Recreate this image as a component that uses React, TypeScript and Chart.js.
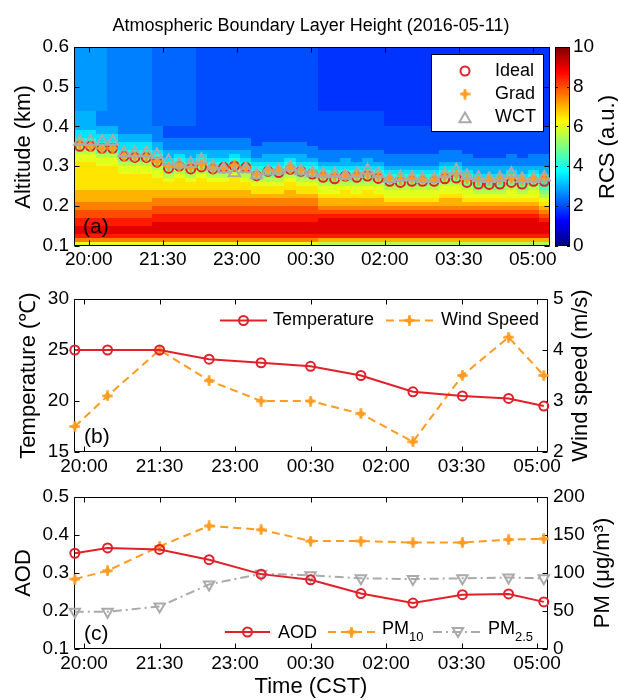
import React, { useEffect, useRef } from "react";
import { Chart, registerables } from "chart.js";

Chart.register(...registerables);

const FONT = '"Liberation Sans", Arial, Helvetica, sans-serif';
const RED = "rgb(226,32,42)";
const ORANGE = "rgb(255,155,32)";
const GRAY = "rgb(170,170,170)";

// ---------------- shared x ticks ----------------
const X_TICK_TIMES = ["20:00", "21:30", "23:00", "00:30", "02:00", "03:30", "05:00"];

// ---------------- panel (a): lidar RCS + boundary layer heights ----------------
const RCS_TIMES = [
  "19:49", "20:02", "20:16", "20:29", "20:43", "20:56", "21:10", "21:23", "21:37", "21:50",
  "22:04", "22:17", "22:31", "22:44", "22:57", "23:11", "23:24", "23:38", "23:51", "00:05",
  "00:18", "00:32", "00:45", "00:59", "01:12", "01:26", "01:39", "01:52", "02:06", "02:19",
  "02:33", "02:46", "03:00", "03:13", "03:27", "03:40", "03:54", "04:07", "04:20", "04:34",
  "04:47", "05:01", "05:14",
];
// altitude band edges (km), from top to bottom
const RCS_ALT_EDGES = [
  0.6, 0.56, 0.52, 0.48, 0.44, 0.4, 0.39, 0.38, 0.37, 0.36, 0.35, 0.34, 0.33, 0.32, 0.31,
  0.3, 0.29, 0.28, 0.27, 0.26, 0.25, 0.24, 0.23, 0.22, 0.21, 0.2, 0.19, 0.18, 0.17, 0.16,
  0.15, 0.14, 0.13, 0.12, 0.11, 0.1,
];
// RCS level (a.u.) of each code character
const RCS_LEVELS: Record<string, number> = {
  "0": 0, "1": 0.5, "2": 1, "3": 1.5, a: 1.75, "4": 2, b: 2.25, "5": 2.5, c: 2.75, "6": 3,
  "7": 3.5, "8": 4, "9": 4.5, A: 5, B: 5.5, C: 6, D: 6.5, E: 7, F: 7.5, G: 8, H: 8.5, I: 9,
  J: 9.5, K: 10,
};
// one character per time column (spaces only group the columns), rows from top to bottom
const RCS_ROWS = [
  "ccc5555b bbb44444 444444 aaaaaa aaaaa aa aaaa aaaa",
  "ccc5555b bbb44444 444444 aaaaaa aaaaa aa aaaa aaaa",
  "ccc5555b bbb44444 444444 aaaaaa aaaaa aa aaaa aaaa",
  "ccc5555b bbb44444 444444 aaaaaa aaaaa aa aaaa aaaa",
  "6655555b bbb44444 444444 444444 aaaaa aa aaaa aaaa",
  "66665555 44444444 444444 444444 44444 44 4444 4444",
  "77665555 44444444 444444 444444 44444 44 4444 4444",
  "77776665 44444444 444444 444444 44444 44 4444 4444",
  "88776665 55555555 444444 444444 44444 44 4444 4444",
  "99887776 55555555 455554 444444 44444 44 4444 4444",
  "AA997776 55555555 555555 444444 44444 44 4444 4444",
  "BBAA8887 66666666 555555 555555 44444 55 4444 4444",
  "CCBB9998 67676676 566665 555555 55555 55 5444 5455",
  "CCCCAAA9 78787787 666766 556565 55555 55 5555 5555",
  "DDCCBBBA 89898898 777877 666666 55555 66 5555 5555",
  "DDDDCCCB 9A9A99A9 888988 777777 66666 77 6666 6666",
  "DDDDCCCC ABABAABA 999A99 888888 77777 88 7666 7676",
  "DDDDDDDC BCBCBBCB AAABAA 999999 88888 99 8777 8787",
  "DDDDDDDD CDCDCCDC BBBCBB AAAAAA 99999 AA 9888 9897",
  "DDDDDDDD DDDDDDDD CCCDCC BBBBBB AAAAA BB A999 A9A8",
  "DDDDDDDD DDDDDDDD DDDDDD CCCCCC BBBBB CC BAAA BAB9",
  "EEEEEEEE EEEEEEEE DDDEDD CCDCDC CCCCC CC CBBB CBCA",
  "EEEEEEEE EEEEEEEE EEEEEE DDDDDD CCCCC DD CCCC CCCB",
  "EEEEEEEF FFFFFFFF FFFFFF EEEEEE DDDDD EE DDDD DDDC",
  "FFFFFFFF FFFFFFFF FFFFFF EEEEEE EEEEE EE EEEE EEED",
  "FFFFFFFG GGGGGGGG GGGGGG FFFFFF FFFFF FF FFFF FFFE",
  "GGGGGGGG GGGGGGGG GGGGGG GGGGGG GGGGG GG GGGG GGGF",
  "GGGGGGGH HHHHHHHH HHHHHH HHHHHH HHHHH HH HHHH HHHG",
  "HHHHHHHH HHHHHHHH HHHHHH IIIIII IIIII II IIII IIIH",
  "HHHHHHHI IIIIIIII IIIIII IIIIII IIIII II IIII IIII",
  "IIIIIIII IIIIIIII IIIIII IIIIII IIIII II IIII IIII",
  "IIIIIIII IIIIIIII IIIIII IIIIII IIIII II IIII IIII",
  "HHHHHHHH HHHHHHHH HHHHHH HHHHHH HHHHH HH HHHH HHHH",
  "FFFFFFFF FFFFFFFF FFFFFF EEEEEE EEEEE EE EEEE EEEE",
  "CCCCCCCC CCCCCCCC CCCCCC BBBBBB BBBBB BB BBBB BBBB",
];
const BLH_IDEAL = [
  0.35, 0.35, 0.345, 0.345, 0.325, 0.322, 0.322, 0.31, 0.295, 0.3, 0.293, 0.298, 0.293, 0.297,
  0.3, 0.297, 0.276, 0.287, 0.284, 0.292, 0.287, 0.28, 0.272, 0.268, 0.275, 0.272, 0.275, 0.269,
  0.262, 0.259, 0.262, 0.262, 0.262, 0.268, 0.27, 0.259, 0.255, 0.254, 0.255, 0.259, 0.255, 0.262,
  0.262,
];
const BLH_GRAD = [
  0.355, 0.35, 0.345, 0.345, 0.325, 0.325, 0.325, 0.312, 0.3, 0.3, 0.297, 0.305, 0.295, 0.295,
  0.302, 0.297, 0.28, 0.29, 0.29, 0.295, 0.29, 0.285, 0.277, 0.275, 0.276, 0.277, 0.28, 0.274,
  0.268, 0.266, 0.268, 0.266, 0.266, 0.274, 0.28, 0.268, 0.265, 0.265, 0.266, 0.27, 0.265, 0.268,
  0.268,
];
const BLH_WCT = [
  0.362, 0.362, 0.362, 0.362, 0.334, 0.334, 0.334, 0.328, 0.313, 0.305, 0.306, 0.316, 0.3, 0.293,
  0.283, 0.293, 0.278, 0.287, 0.29, 0.297, 0.288, 0.283, 0.28, 0.281, 0.276, 0.281, 0.29, 0.28,
  0.268, 0.273, 0.272, 0.268, 0.268, 0.28, 0.29, 0.276, 0.271, 0.268, 0.271, 0.281, 0.268, 0.268,
  0.272,
];

// ---------------- panels (b) and (c) ----------------
const MET_TIMES = ["19:49", "20:28", "21:30", "22:29", "23:31", "00:30", "01:30", "02:32", "03:31", "04:26", "05:08"];
const TEMPERATURE = [25.0, 25.0, 25.0, 24.1, 23.75, 23.4, 22.5, 20.9, 20.5, 20.25, 19.5];
const WIND_SPEED = [2.5, 3.1, 4.0, 3.4, 3.0, 3.0, 2.75, 2.2, 3.5, 4.25, 3.5];
const AOD = [0.352, 0.366, 0.362, 0.335, 0.297, 0.282, 0.246, 0.221, 0.243, 0.245, 0.224];
const PM10 = [92, 103, 135, 162, 157, 142, 142, 140, 140, 144, 145];
const PM25 = [49, 49, 56, 85, 99, 97, 93, 92, 93, 94, 93];

// ---------------- helpers ----------------
function toMin(t: string): number {
  const [h, m] = t.split(":").map(Number);
  let v = h * 60 + m - 20 * 60;
  if (h < 12) v += 24 * 60;
  return v;
}
function fmtTime(v: number): string {
  const tot = (((Math.round(v) + 20 * 60) % 1440) + 1440) % 1440;
  const h = Math.floor(tot / 60);
  const m = tot % 60;
  return `${String(h).padStart(2, "0")}:${String(m).padStart(2, "0")}`;
}
const RCS_GRID: number[][] = RCS_ROWS.map((row) =>
  row.replace(/ /g, "").split("").map((ch) => RCS_LEVELS[ch])
);
function clamp01(v: number) {
  return Math.max(0, Math.min(1, v));
}
function jet(v: number): string {
  const t = clamp01(v / 10);
  const r = clamp01(1.5 - Math.abs(4 * t - 3));
  const g = clamp01(1.5 - Math.abs(4 * t - 2));
  const b = clamp01(1.5 - Math.abs(4 * t - 1));
  return `rgb(${Math.round(r * 255)},${Math.round(g * 255)},${Math.round(b * 255)})`;
}
let STAR: HTMLCanvasElement | null = null;
function getStar(): HTMLCanvasElement {
  if (STAR) return STAR;
  const s = 11;
  const c = document.createElement("canvas");
  c.width = s;
  c.height = s;
  const g = c.getContext("2d")!;
  const m = s / 2;
  g.strokeStyle = ORANGE;
  g.fillStyle = ORANGE;
  g.lineWidth = 2.6;
  g.beginPath();
  g.moveTo(m, 0.3);
  g.lineTo(m, s - 0.3);
  g.moveTo(0.3, m);
  g.lineTo(s - 0.3, m);
  g.stroke();
  g.beginPath();
  g.moveTo(m, m - 3.9);
  g.lineTo(m + 3.9, m);
  g.lineTo(m, m + 3.9);
  g.lineTo(m - 3.9, m);
  g.closePath();
  g.fill();
  STAR = c;
  return c;
}
function drawMarker(ctx: any, kind: string, x: number, y: number, color: string) {
  ctx.save();
  ctx.setLineDash([]);
  ctx.strokeStyle = color;
  ctx.lineWidth = 2;
  if (kind === "circle") {
    ctx.beginPath();
    ctx.arc(x, y, 4.5, 0, Math.PI * 2);
    ctx.stroke();
  } else if (kind === "star") {
    const s = getStar();
    ctx.drawImage(s, x - s.width / 2, y - s.height / 2);
  } else {
    const r = kind === "tri" ? 6.5 : 6;
    const d = kind === "tri" ? 1 : -1;
    const k = Math.sin((Math.PI * 2) / 3) * r;
    ctx.beginPath();
    ctx.moveTo(x, y - d * r);
    ctx.lineTo(x + k, y + (d * r) / 2);
    ctx.lineTo(x - k, y + (d * r) / 2);
    ctx.closePath();
    ctx.stroke();
  }
  ctx.restore();
}

// ---------------- plugins ----------------
const heatmapPlugin = {
  id: "heatmap",
  beforeDatasetsDraw(chart: any) {
    const { ctx, chartArea: a } = chart;
    const xs = chart.scales.x;
    const ys = chart.scales.y;
    const cols = RCS_TIMES.map(toMin);
    ctx.save();
    ctx.beginPath();
    ctx.rect(a.left, a.top, a.right - a.left, a.bottom - a.top);
    ctx.clip();
    for (let i = 0; i < cols.length; i++) {
      const lo = i === 0 ? xs.min : (cols[i - 1] + cols[i]) / 2;
      const hi = i === cols.length - 1 ? xs.max : (cols[i] + cols[i + 1]) / 2;
      const px0 = Math.round(xs.getPixelForValue(lo));
      const px1 = Math.round(xs.getPixelForValue(hi));
      for (let r = 0; r < RCS_GRID.length; r++) {
        const py0 = Math.round(ys.getPixelForValue(RCS_ALT_EDGES[r]));
        const py1 = Math.round(ys.getPixelForValue(RCS_ALT_EDGES[r + 1]));
        ctx.fillStyle = jet(RCS_GRID[r][i]);
        ctx.fillRect(px0, py0, px1 - px0, py1 - py0);
      }
    }
    ctx.restore();
  },
};

const framePlugin = {
  id: "frame",
  beforeDatasetsDraw(chart: any, _args: any, opts: any) {
    const { ctx, chartArea: a } = chart;
    const L = Math.round(a.left) + 0.5;
    const R = Math.round(a.right) - 0.5;
    const T = Math.round(a.top) + 0.5;
    const B = Math.round(a.bottom) - 0.5;
    const len = 5;
    ctx.save();
    ctx.strokeStyle = "#000";
    ctx.lineWidth = 1;
    ctx.setLineDash([]);
    ctx.beginPath();
    const xs = chart.scales.x;
    for (const t of xs.ticks) {
      const px = Math.round(xs.getPixelForValue(t.value)) + 0.5;
      ctx.moveTo(px, B);
      ctx.lineTo(px, B - len);
      ctx.moveTo(px, T);
      ctx.lineTo(px, T + len);
    }
    const yl = chart.scales[opts.left];
    for (const t of yl.ticks) {
      const py = Math.round(yl.getPixelForValue(t.value)) + 0.5;
      ctx.moveTo(L, py);
      ctx.lineTo(L + len, py);
      if (opts.mirrorLeft) {
        ctx.moveTo(R, py);
        ctx.lineTo(R - len, py);
      }
    }
    if (opts.right) {
      const yr = chart.scales[opts.right];
      for (const t of yr.ticks) {
        const py = Math.round(yr.getPixelForValue(t.value)) + 0.5;
        ctx.moveTo(R, py);
        ctx.lineTo(R - len, py);
      }
    }
    ctx.rect(L, T, R - L, B - T);
    ctx.stroke();
    ctx.restore();
  },
};

const colorbarPlugin = {
  id: "colorbar",
  afterDraw(chart: any, _a: any, opts: any) {
    const cb = chart.scales[opts.scale];
    if (!cb) return;
    const ctx = chart.ctx;
    const x0 = Math.round(chart.chartArea.right) + opts.gap;
    const w = opts.width;
    const yTop = Math.round(cb.getPixelForValue(cb.max));
    const yBot = Math.round(cb.getPixelForValue(cb.min));
    ctx.save();
    for (let py = yTop; py < yBot; py++) {
      ctx.fillStyle = jet(cb.getValueForPixel(py + 0.5));
      ctx.fillRect(x0, py, w, 1);
    }
    ctx.strokeStyle = "#000";
    ctx.lineWidth = 1;
    ctx.beginPath();
    ctx.rect(x0 + 0.5, yTop + 0.5, w - 1, yBot - yTop - 1);
    for (const t of cb.ticks) {
      const py = Math.round(cb.getPixelForValue(t.value)) + 0.5;
      ctx.moveTo(x0, py);
      ctx.lineTo(x0 + 3, py);
      ctx.moveTo(x0 + w, py);
      ctx.lineTo(x0 + w - 3, py);
    }
    ctx.stroke();
    ctx.restore();
  },
};

const legendPlugin = {
  id: "mlegend",
  afterDraw(chart: any, _a: any, opts: any) {
    const ctx = chart.ctx;
    ctx.save();
    if (opts.box) {
      const b = opts.box;
      ctx.fillStyle = "#fff";
      ctx.fillRect(b.x, b.y, b.w, b.h);
      ctx.strokeStyle = "#000";
      ctx.lineWidth = 1;
      ctx.strokeRect(b.x, b.y, b.w, b.h);
    }
    for (const it of opts.items || []) {
      if (it.x0 != null) {
        ctx.beginPath();
        ctx.setLineDash(it.dash || []);
        ctx.strokeStyle = it.color;
        ctx.lineWidth = 2;
        ctx.moveTo(it.x0, it.y);
        ctx.lineTo(it.x1, it.y);
        ctx.stroke();
        ctx.setLineDash([]);
      }
      drawMarker(ctx, it.marker, it.mx, it.my != null ? it.my : it.y, it.color);
      const ty = it.ty != null ? it.ty : it.y;
      ctx.fillStyle = "#000";
      ctx.font = `18px ${FONT}`;
      ctx.textAlign = "left";
      ctx.textBaseline = "middle";
      ctx.fillText(it.label, it.tx, ty);
      if (it.sub) {
        const w = ctx.measureText(it.label).width;
        ctx.font = `13px ${FONT}`;
        ctx.fillText(it.sub, it.tx + w, ty + 8);
      }
    }
    ctx.restore();
  },
};

const textsPlugin = {
  id: "texts",
  afterDraw(chart: any, _a: any, opts: any) {
    const ctx = chart.ctx;
    for (const it of opts.items || []) {
      ctx.save();
      ctx.font = `${it.size}px ${FONT}`;
      ctx.fillStyle = "#000";
      ctx.textAlign = it.align || "center";
      ctx.textBaseline = "middle";
      ctx.translate(it.x, it.y);
      if (it.rot) ctx.rotate((it.rot * Math.PI) / 180);
      ctx.fillText(it.text, 0, 0);
      ctx.restore();
    }
  },
};

// ---------------- scale builders ----------------
const tickFont = { family: FONT, size: 19 };

function xScale(minT: string, maxT: string, height: number) {
  return {
    type: "linear",
    position: "bottom",
    min: toMin(minT),
    max: toMin(maxT),
    afterBuildTicks: (s: any) => {
      s.ticks = X_TICK_TIMES.map((t) => ({ value: toMin(t) }));
    },
    afterFit: (s: any) => {
      s.height = height;
    },
    grid: { display: false, drawTicks: false },
    border: { display: false },
    ticks: {
      color: "#000",
      font: tickFont,
      padding: 3,
      maxRotation: 0,
      minRotation: 0,
      autoSkip: false,
      callback: (v: number) => fmtTime(v),
    },
  };
}

function yScale(pos: string, min: number, max: number, step: number, width: number, pad: number, fmt: (v: number) => string) {
  return {
    type: "linear",
    axis: "y",
    position: pos,
    min,
    max,
    afterFit: (s: any) => {
      s.width = width;
    },
    grid: { display: false, drawTicks: false },
    border: { display: false },
    ticks: { stepSize: step, color: "#000", font: tickFont, padding: pad, callback: fmt },
  };
}

const baseOptions = {
  responsive: false,
  animation: false,
  devicePixelRatio: 1,
  events: [],
};

const transparent = "rgba(0,0,0,0)";

// ---------------- chart configs ----------------
function configA(): any {
  const xs = RCS_TIMES.map(toMin);
  const pts = (vals: number[]) => xs.map((x, i) => ({ x, y: vals[i] }));
  return {
    type: "scatter",
    data: {
      datasets: [
        {
          label: "WCT",
          data: pts(BLH_WCT),
          order: 0,
          showLine: false,
          clip: false,
          pointStyle: "triangle",
          pointRadius: 6.5,
          pointBorderWidth: 2,
          pointBorderColor: GRAY,
          pointBackgroundColor: transparent,
          borderColor: GRAY,
          backgroundColor: transparent,
        },
        {
          label: "Grad",
          data: pts(BLH_GRAD),
          order: 1,
          showLine: false,
          clip: false,
          pointStyle: getStar(),
          pointRadius: 5,
          borderColor: ORANGE,
          backgroundColor: ORANGE,
        },
        {
          label: "Ideal",
          data: pts(BLH_IDEAL),
          order: 2,
          showLine: false,
          clip: false,
          pointStyle: "circle",
          pointRadius: 4.5,
          pointBorderWidth: 2,
          pointBorderColor: RED,
          pointBackgroundColor: transparent,
          borderColor: RED,
          backgroundColor: transparent,
        },
      ],
    },
    options: {
      ...baseOptions,
      layout: { padding: { top: 47, left: 0, right: 0, bottom: 0 } },
      scales: {
        x: xScale("19:42", "05:21", 33),
        y: yScale("left", 0.1, 0.6, 0.1, 74, 5, (v) => Number(v).toFixed(1)),
        cb: yScale("right", 0, 10, 2, 68, 23, (v) => String(v)),
      },
      plugins: {
        legend: { display: false },
        tooltip: { enabled: false },
        frame: { left: "y", right: null, mirrorLeft: true },
        colorbar: { scale: "cb", gap: 5, width: 15 },
        mlegend: {
          box: { x: 431.5, y: 54.5, w: 112, h: 77 },
          items: [
            { marker: "circle", color: RED, mx: 465, tx: 495, y: 71, label: "Ideal" },
            { marker: "star", color: ORANGE, mx: 465, tx: 495, y: 94, label: "Grad" },
            { marker: "tri", color: GRAY, mx: 465, my: 119, tx: 495, y: 117.5, label: "WCT" },
          ],
        },
        texts: {
          items: [
            { text: "Atmospheric Boundary Layer Height (2016-05-11)", x: 311, y: 26, size: 18 },
            { text: "Altitude (km)", x: 24, y: 147, size: 22, rot: -90 },
            { text: "RCS (a.u.)", x: 608, y: 147, size: 22, rot: -90 },
            { text: "(a)", x: 83, y: 227, size: 21, align: "left" },
          ],
        },
      },
    },
    plugins: [heatmapPlugin, framePlugin, colorbarPlugin, legendPlugin, textsPlugin],
  };
}

function metPoints(vals: number[]) {
  return MET_TIMES.map((t, i) => ({ x: toMin(t), y: vals[i] }));
}

function configB(): any {
  return {
    type: "scatter",
    data: {
      datasets: [
        {
          label: "Temperature",
          data: metPoints(TEMPERATURE),
          yAxisID: "y",
          order: 0,
          showLine: true,
          clip: false,
          borderColor: RED,
          borderWidth: 2,
          backgroundColor: transparent,
          pointStyle: "circle",
          pointRadius: 4.5,
          pointBorderWidth: 2,
          pointBorderColor: RED,
          pointBackgroundColor: transparent,
        },
        {
          label: "Wind Speed",
          data: metPoints(WIND_SPEED),
          yAxisID: "y2",
          order: 1,
          showLine: true,
          clip: false,
          borderColor: ORANGE,
          borderWidth: 2,
          borderDash: [8, 5],
          backgroundColor: transparent,
          pointStyle: getStar(),
          pointRadius: 5,
        },
      ],
    },
    options: {
      ...baseOptions,
      layout: { padding: { top: 19, left: 0, right: 0, bottom: 0 } },
      scales: {
        x: xScale("19:48", "05:13", 23),
        y: yScale("left", 15, 30, 5, 74, 5, (v) => String(v)),
        y2: yScale("right", 2, 5, 1, 70, 5, (v) => String(v)),
      },
      plugins: {
        legend: { display: false },
        tooltip: { enabled: false },
        frame: { left: "y", right: "y2", mirrorLeft: false },
        mlegend: {
          items: [
            { x0: 220, x1: 267, marker: "circle", color: RED, mx: 243.5, tx: 273, y: 40.5, label: "Temperature" },
            { x0: 386, x1: 433, dash: [8, 5], marker: "star", color: ORANGE, mx: 409.5, tx: 441, y: 40.5, label: "Wind Speed" },
          ],
        },
        texts: {
          items: [
            { text: "Temperature (℃)", x: 28.5, y: 95.5, size: 22, rot: -90 },
            { text: "Wind speed (m/s)", x: 581, y: 95.5, size: 22, rot: -90 },
            { text: "(b)", x: 84, y: 157, size: 21, align: "left" },
          ],
        },
      },
    },
    plugins: [framePlugin, legendPlugin, textsPlugin],
  };
}

function configC(): any {
  return {
    type: "scatter",
    data: {
      datasets: [
        {
          label: "AOD",
          data: metPoints(AOD),
          yAxisID: "y",
          order: 0,
          showLine: true,
          clip: false,
          borderColor: RED,
          borderWidth: 2,
          backgroundColor: transparent,
          pointStyle: "circle",
          pointRadius: 4.5,
          pointBorderWidth: 2,
          pointBorderColor: RED,
          pointBackgroundColor: transparent,
        },
        {
          label: "PM10",
          data: metPoints(PM10),
          yAxisID: "y2",
          order: 1,
          showLine: true,
          clip: false,
          borderColor: ORANGE,
          borderWidth: 2,
          borderDash: [8, 5],
          backgroundColor: transparent,
          pointStyle: getStar(),
          pointRadius: 5,
        },
        {
          label: "PM2.5",
          data: metPoints(PM25),
          yAxisID: "y2",
          order: 2,
          showLine: true,
          clip: false,
          borderColor: GRAY,
          borderWidth: 2,
          borderDash: [9, 4, 2, 4],
          backgroundColor: transparent,
          pointStyle: "triangle",
          pointRotation: 180,
          pointRadius: 6,
          pointBorderWidth: 2,
          pointBorderColor: GRAY,
          pointBackgroundColor: transparent,
        },
      ],
    },
    options: {
      ...baseOptions,
      layout: { padding: { top: 22, left: 0, right: 0, bottom: 0 } },
      scales: {
        x: xScale("19:48", "05:13", 51),
        y: yScale("left", 0.1, 0.5, 0.1, 74, 5, (v) => Number(v).toFixed(1)),
        y2: yScale("right", 0, 200, 50, 70, 5, (v) => String(v)),
      },
      plugins: {
        legend: { display: false },
        tooltip: { enabled: false },
        frame: { left: "y", right: "y2", mirrorLeft: false },
        mlegend: {
          items: [
            { x0: 225, x1: 270, marker: "circle", color: RED, mx: 247.5, tx: 278, y: 157, ty: 158, label: "AOD" },
            { x0: 328, x1: 375, dash: [8, 5], marker: "star", color: ORANGE, mx: 351.5, tx: 382, y: 157, ty: 154.5, label: "PM", sub: "10" },
            { x0: 433, x1: 482, dash: [9, 4, 2, 4], marker: "trid", color: GRAY, mx: 458, my: 156, tx: 488, y: 157, ty: 154.5, label: "PM", sub: "2.5" },
          ],
        },
        texts: {
          items: [
            { text: "AOD", x: 23.5, y: 98, size: 22, rot: -90 },
            { text: "PM (μg/m³)", x: 603, y: 98, size: 22, rot: -90 },
            { text: "Time (CST)", x: 311, y: 212, size: 22 },
            { text: "(c)", x: 84, y: 159, size: 21, align: "left" },
          ],
        },
      },
    },
    plugins: [framePlugin, legendPlugin, textsPlugin],
  };
}

function PanelCanvas({ top, height, make }: { top: number; height: number; make: () => any }) {
  const ref = useRef<HTMLCanvasElement | null>(null);
  useEffect(() => {
    if (!ref.current) return;
    const chart = new Chart(ref.current, make());
    return () => chart.destroy();
  }, [make]);
  return (
    <canvas
      ref={ref}
      width={618}
      height={height}
      style={{ position: "absolute", left: 0, top, width: 618, height, display: "block" }}
    />
  );
}

export default function App() {
  return (
    <div style={{ position: "absolute", left: 0, top: 0, width: 618, height: 700, background: "#fff" }}>
      <PanelCanvas top={0} height={280} make={configA} />
      <PanelCanvas top={280} height={195} make={configB} />
      <PanelCanvas top={475} height={225} make={configC} />
    </div>
  );
}
